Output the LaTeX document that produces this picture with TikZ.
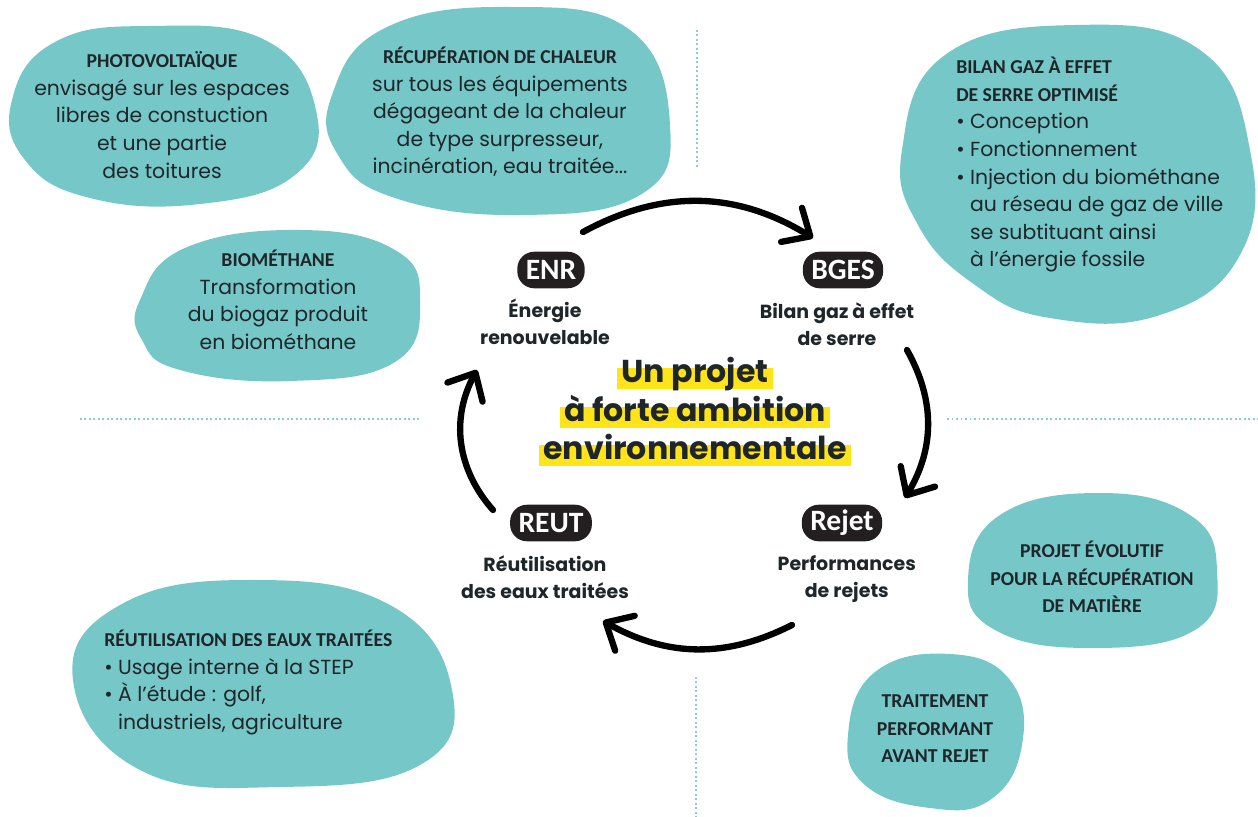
\documentclass[tikz,border=0pt]{standalone}
\usepackage{fontspec}
\setmainfont{Poppins}
\newfontfamily\handfont{Carlito}
\newfontfamily\headfont{Poppins}
\usepackage{xcolor}
\usetikzlibrary{positioning,backgrounds,arrows.meta}

\definecolor{lagoon}{RGB}{118,199,200}
\definecolor{ink}{RGB}{31,38,42}
\definecolor{pillblack}{RGB}{35,31,32}
\definecolor{marker}{RGB}{255,228,25}
\definecolor{dots}{RGB}{140,206,208}

\newcommand\blobhead[1]{{\handfont\bfseries\fontsize{14}{19.6}\selectfont #1}}
\newcommand\bul{\textbullet\ }

\begin{document}
\begin{tikzpicture}[x=0.25mm, y=0.25mm, font=\fontsize{14.5}{19.6}\selectfont, text=ink,
    bubble/.style={fill=lagoon},
    note/.style={align=center, inner sep=0pt},
    pill/.style={fill=pillblack, text=white, rounded corners=12pt, minimum height=26pt, inner xsep=6pt, inner ysep=0pt,
                 font=\handfont\bfseries\fontsize{21}{21}\selectfont},
    desc/.style={align=center, inner sep=0pt, font=\bfseries\fontsize{13.5}{19.2}\selectfont},
    centre/.style={inner sep=0pt, anchor=base, font=\headfont\bfseries\fontsize{22.5}{27}\selectfont},
    turn/.style={line width=4.5pt, line cap=round, -{Straight Barb[length=5.5mm, width=10mm, round]}},
    guide/.style={draw=dots, line width=1.2pt, dotted}
    ]

    \useasboundingbox (0,0) rectangle (1258,-817);

    % dotted separators
    \draw[guide] (80,-419) -- (420,-419);
    \draw[guide] (947,-419) -- (1258,-419);
    \draw[guide] (697,-30) -- (697,-168);
    \draw[guide] (696,-677) -- (696,-817);

    % blobs
    \fill[bubble] plot[smooth cycle, tension=0.75] coordinates {(12,-100) (55,-42) (150,-26) (265,-40) (316,-110) (295,-175) (200,-204) (90,-198) (25,-160)};
    \fill[bubble] plot[smooth cycle, tension=0.75] coordinates {(332,-95) (385,-28) (510,-7) (630,-30) (670,-125) (640,-195) (520,-215) (395,-198) (338,-155)};
    \fill[bubble] plot[smooth cycle, tension=0.75] coordinates {(140,-300) (185,-248) (300,-230) (395,-250) (420,-300) (395,-362) (290,-381) (180,-370) (142,-340)};
    \fill[bubble] plot[smooth cycle, tension=0.75] coordinates {(902,-150) (945,-55) (1075,-25) (1200,-50) (1250,-150) (1240,-255) (1160,-315) (1050,-318) (975,-285) (918,-225)};
    \fill[bubble] plot[smooth cycle, tension=0.75] coordinates {(73,-680) (120,-605) (250,-580) (390,-605) (452,-690) (420,-765) (280,-787) (140,-770)};
    \fill[bubble] plot[smooth cycle, tension=0.75] coordinates {(968,-580) (1000,-515) (1100,-493) (1190,-515) (1217,-570) (1195,-630) (1090,-648) (995,-630)};
    \fill[bubble] plot[smooth cycle, tension=0.75] coordinates {(848,-735) (875,-672) (950,-654) (1010,-680) (1022,-745) (990,-800) (930,-808) (865,-785)};

    % blob texts
    \node[note] (pv) at (162,-115) {\blobhead{PHOTOVOLTAÏQUE}\\envisagé sur les espaces\\libres de constuction\\et une partie\\des toitures};
    \node[note] (heat) at (500,-112) {\blobhead{RÉCUPÉRATION DE CHALEUR}\\sur tous les équipements\\dégageant de la chaleur\\de type surpresseur,\\incinération, eau traitée...};
    \node[note] (bio) at (278,-300) {\blobhead{BIOMÉTHANE}\\Transformation\\du biogaz produit\\en biométhane};
    \node[note, align=left, anchor=north west] (ghg) at (956,-57) {\blobhead{BILAN GAZ À EFFET}\\\blobhead{DE SERRE OPTIMISÉ}\\\bul Conception\\\bul Fonctionnement\\\bul Injection du biométhane\\\hphantom{\bul}au réseau de gaz de ville\\\hphantom{\bul}se subtituant ainsi\\\hphantom{\bul}à l’énergie fossile};
    \node[note, align=left, anchor=north west] (reuse) at (104,-630) {\blobhead{RÉUTILISATION DES EAUX TRAITÉES}\\\bul Usage interne à la STEP\\\bul À l’étude : golf,\\\hphantom{\bul}industriels, agriculture};
    \node[note] (matter) at (1092,-577) {\blobhead{PROJET ÉVOLUTIF}\\\blobhead{POUR LA RÉCUPÉRATION}\\\blobhead{DE MATIÈRE}};
    \node[note] (treat) at (935,-729) {\blobhead{TRAITEMENT}\\\blobhead{PERFORMANT}\\\blobhead{AVANT REJET}};

    % cycle labels
    \node[pill] (enr) at (551,-270) {ENR};
    \node[pill] (bges) at (843,-270) {BGES};
    \node[pill] (reut) at (551,-523) {REUT};
    \node[pill] (rejet) at (842,-523) {Rejet};
    \node[desc, below=2.5mm of enr, xshift=-1.5mm] (enrtxt) {Énergie\\renouvelable};
    \node[desc, below=3.5mm of bges, xshift=-1.5mm] (bgestxt) {Bilan gaz à effet\\de serre};
    \node[desc, below=3.5mm of reut, xshift=-1.5mm] (reuttxt) {Réutilisation\\des eaux traitées};
    \node[desc, below=3.5mm of rejet, xshift=1.2mm] (rejettxt) {Performances\\de rejets};

    % centre title
    \node[centre] (amb1) at (695,-383) {Un projet};
    \node[centre] (amb2) at (695,-422) {à forte ambition};
    \node[centre] (amb3) at (695,-460) {environnementale};
    \begin{scope}[on background layer]
    \foreach \l in {amb1,amb2,amb3}
        \fill[marker] ([xshift=-3pt,yshift=-4pt]\l.base west) rectangle ([xshift=3pt,yshift=10.5pt]\l.base east);
    \end{scope}

    % cycle arrows
    \coordinate (a1) at (583,-232);
    \coordinate (a2) at (813,-238);
    \coordinate (b1) at (907,-350);
    \coordinate (b2) at (905,-498);
    \coordinate (c1) at (792,-625);
    \coordinate (c2) at (603,-621);
    \coordinate (d1) at (493,-510);
    \coordinate (d2) at (477,-370);
    \draw[turn] (a1) to[bend left=30] (a2);
    \draw[turn] (b1) to[bend left=30] (b2);
    \draw[turn] (c1) to[bend left=28] (c2);
    \draw[turn] (d1) to[bend left=35] (d2);
    %
\end{tikzpicture}
\end{document}
